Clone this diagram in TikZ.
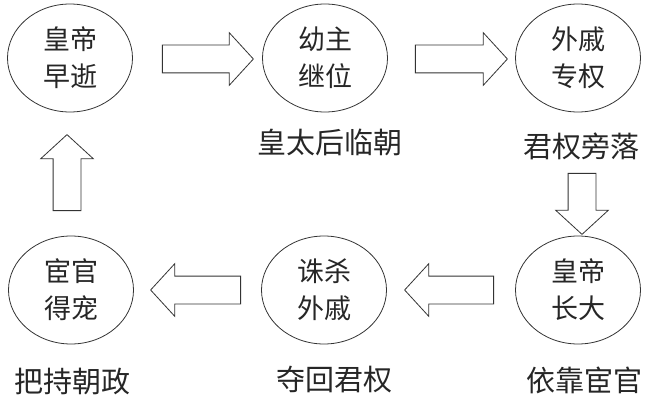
\documentclass[tikz,border=0pt]{standalone}
\usepackage{fontspec}
\setmainfont{Noto Sans CJK SC}
\usetikzlibrary{shapes.geometric,shapes.arrows}

\begin{document}
\begin{tikzpicture}[
  x=1pt,y=-1pt,
  state/.style={ellipse,draw=black!80,line width=0.8pt,minimum width=125pt,
    minimum height=108pt,inner sep=0pt,align=center,text=black!85,
    font=\fontsize{27}{37}\selectfont},
  blk/.style={single arrow,draw=black!80,line width=0.8pt,inner sep=13.5pt,
    minimum width=0pt,single arrow head extend=12.5pt,
    single arrow tip angle=95},
  note/.style={text=black!85,font=\fontsize{29}{29}\selectfont}
]
  \useasboundingbox (0,0) rectangle (648,396);
  % six stages of the cycle
  \foreach \n/\x/\y/\txt in {e1/70/58/{皇帝\\早逝},e2/325/58/{幼主\\继位},
      e3/578/58/{外戚\\专权},e6/578/290/{皇帝\\长大},
      e5/324/290/{诛杀\\外戚},e4/71/290/{宦官\\得宠}}
    \node[state] (\n) at (\x,\y) {\txt};
  % captions under the stages
  \node[note] (c2) at (330,142) {皇太后临朝};
  \node[note] (c3) at (581,146) {君权旁落};
  \node[note] (c6) at (584,380) {依靠宦官};
  \node[note] (c5) at (334,380) {夺回君权};
  \node[note] (c4) at (72,381) {把持朝政};
  % block arrows
  \node[blk,minimum height=91pt,shape border rotate=0] (a12) at (201.5,59) {};
  \node[blk,minimum height=92pt,shape border rotate=0] (a23) at (455,59) {};
  \node[blk,minimum height=61pt,shape border rotate=270] (a36) at (582,197.5) {};
  \node[blk,minimum height=89pt,shape border rotate=180] (a65) at (455.5,290) {};
  \node[blk,minimum height=90pt,shape border rotate=180] (a54) at (202,290) {};
  \node[blk,minimum height=76pt,shape border rotate=90] (a41) at (67,179) {};
\end{tikzpicture}
\end{document}
